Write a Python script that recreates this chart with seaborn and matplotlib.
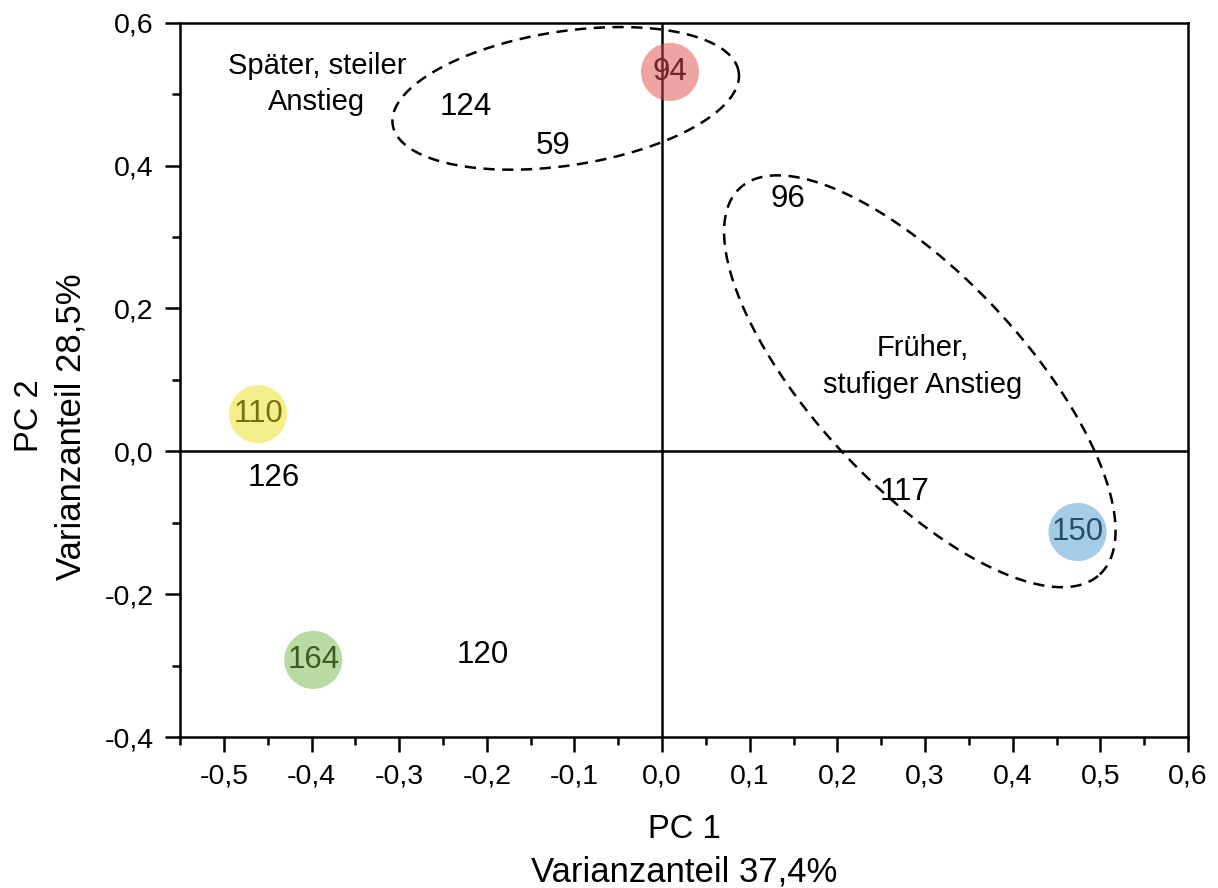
import numpy as np
import pandas as pd
import seaborn as sns
import matplotlib.pyplot as plt
from matplotlib.ticker import MultipleLocator, FuncFormatter

# Proben mit farbigem Kreis
circ_ids = ["94", "110", "164", "150"]
circ_pc1 = [0.009, -0.461, -0.398, 0.474]
circ_pc2 = [0.531, 0.052, -0.292, -0.113]
circ_colors = ["#e14b4b", "#ebe119", "#73b94b", "#4b9bcd"]

# Proben nur als Zahl
plain_ids = ["124", "59", "96", "117", "126", "120"]
plain_pc1 = [-0.224, -0.124, 0.144, 0.277, -0.443, -0.205]
plain_pc2 = [0.482, 0.428, 0.353, -0.057, -0.038, -0.285]

# Gruppen (Ellipsen): Mitte in Daten, Halbachsen in Pixel, Winkel in Grad
group_names = ["Später, steiler\nAnstieg", "Früher,\nstufiger Anstieg"]
group_text_xy = [(-0.394, 0.514), (0.297, 0.119)]
ell_center = [(-0.110, 0.494), (0.294, 0.098)]
ell_semi = [(175, 67), (264, 105)]
ell_angle = [8.7, -47.0]

sns.set_style("ticks")
plt.rcParams['font.family'] = ['Liberation Sans', 'DejaVu Sans']
plt.rcParams.update({"text.color": "black", "axes.labelcolor": "black",
                     "xtick.color": "black", "ytick.color": "black"})

fig = plt.figure(figsize=(12.18, 8.88), dpi=100)
ax = fig.add_axes([0.1478, 0.170, 0.8276, 0.8045])

ax.set_xlim(-0.55, 0.6)
ax.set_ylim(-0.4, 0.6)

ax.axhline(0, color="black", lw=1.8, zorder=1)
ax.axvline(0, color="black", lw=1.8, zorder=1)

df = pd.DataFrame({"pc1": circ_pc1, "pc2": circ_pc2, "id": circ_ids})
sns.scatterplot(data=df, x="pc1", y="pc2", hue="id", palette=circ_colors,
                s=1750, alpha=0.5, linewidth=0, legend=False, ax=ax, zorder=3)
ax.set_xlabel("")
ax.set_ylabel("")

for lab, x, y in zip(circ_ids, circ_pc1, circ_pc2):
    ax.text(x, y, lab, ha="center", va="center", fontsize=22.5, zorder=2)
for lab, x, y in zip(plain_ids, plain_pc1, plain_pc2):
    ax.text(x, y, lab, ha="center", va="center", fontsize=22.5, zorder=4)
for name, (x, y) in zip(group_names, group_text_xy):
    ax.text(x, y, name, ha="center", va="center", fontsize=21,
            linespacing=1.4, zorder=4)

# gestrichelte Ellipsen
t = np.linspace(0, 2 * np.pi, 400)
scale = fig.dpi / 100
for (cx, cy), (a, b), ang in zip(ell_center, ell_semi, ell_angle):
    th = np.deg2rad(ang)
    c = ax.transData.transform((cx, cy))
    dx = (a * np.cos(t) * np.cos(th) - b * np.sin(t) * np.sin(th)) * scale
    dy = (a * np.cos(t) * np.sin(th) + b * np.sin(t) * np.cos(th)) * scale
    pts = ax.transData.inverted().transform(np.column_stack([c[0] + dx, c[1] + dy]))
    ax.plot(pts[:, 0], pts[:, 1], color="black", lw=1.8, ls=(0, (4.5, 3)), zorder=4)

fmt = FuncFormatter(lambda v, p: f"{v:.1f}".replace(".", ","))
ax.xaxis.set_major_locator(MultipleLocator(0.1))
ax.xaxis.set_minor_locator(MultipleLocator(0.05))
ax.yaxis.set_major_locator(MultipleLocator(0.2))
ax.yaxis.set_minor_locator(MultipleLocator(0.1))
ax.xaxis.set_major_formatter(fmt)
ax.yaxis.set_major_formatter(fmt)
ax.tick_params(which="major", length=11, width=1.8, pad=8, labelsize=20.5, direction="out")
ax.tick_params(which="minor", length=6, width=1.8, direction="out")

for sp in ax.spines.values():
    sp.set_visible(True)
    sp.set_linewidth(1.8)
    sp.set_color("black")

# Achsentitel (zweizeilig, untere Zeile etwas groesser)
ax.annotate("PC 1", xy=(0.5, 0), xycoords="axes fraction", xytext=(0, -72.7),
            textcoords="offset points", ha="center", va="baseline", fontsize=23.5)
ax.annotate("Varianzanteil 37,4%", xy=(0.5, 0), xycoords="axes fraction",
            xytext=(0, -103.7), textcoords="offset points", ha="center",
            va="baseline", fontsize=25)
ax.annotate("PC 2", xy=(0, 0.45), xycoords="axes fraction", xytext=(-102, 0),
            textcoords="offset points", ha="center", va="baseline", fontsize=23.5,
            rotation=90, rotation_mode="anchor")
ax.annotate("Varianzanteil 28,5%", xy=(0, 0.435), xycoords="axes fraction",
            xytext=(-71.3, 0), textcoords="offset points", ha="center",
            va="baseline", fontsize=25, rotation=90, rotation_mode="anchor")

fig.savefig("out.png", dpi=100)
